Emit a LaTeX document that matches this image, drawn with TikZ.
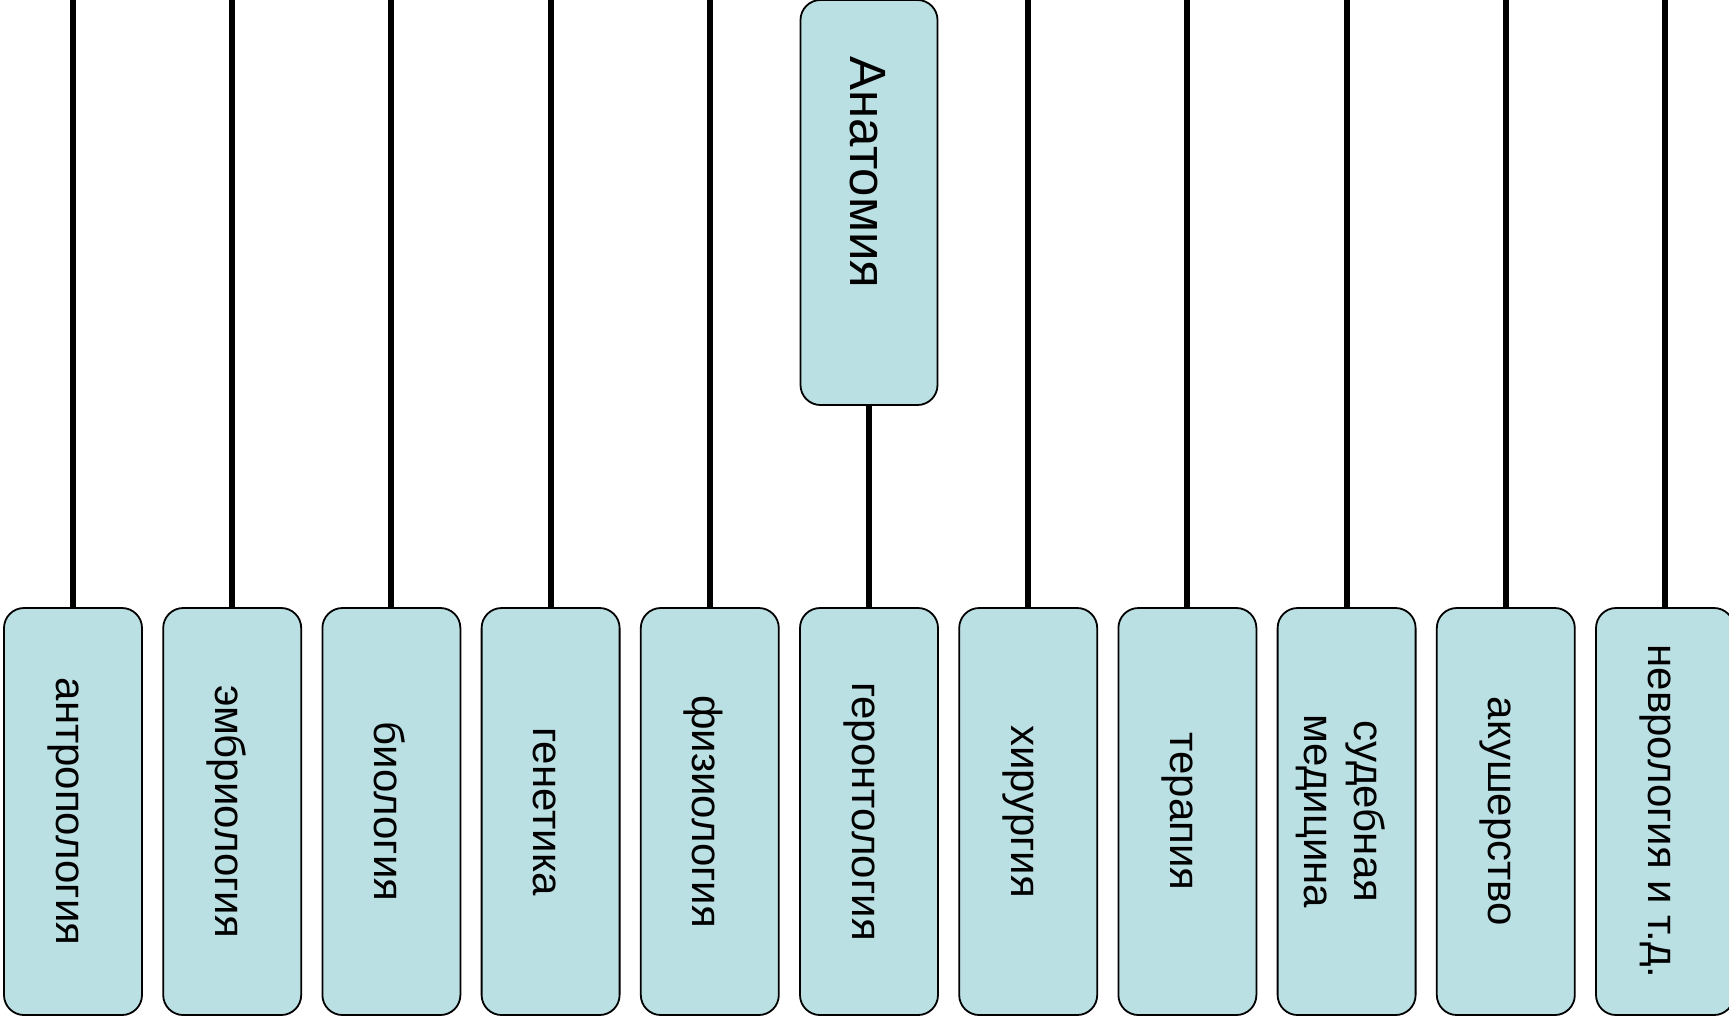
\documentclass[tikz,border=0pt]{standalone}
\usepackage{fontspec}
\setmainfont{Liberation Sans}
\usepackage{graphicx}
\usetikzlibrary{positioning}
\definecolor{boxfill}{RGB}{187,224,227}
\tikzset{
  % дочерний блок (текст повернут)
  disc/.style={rectangle, rounded corners=10pt, draw=black, line width=0.9pt, fill=boxfill,
               minimum width=69pt, minimum height=203.5pt, inner sep=0pt, outer sep=0pt,
               font=\fontsize{21}{25}\selectfont},
  root/.style={disc, minimum width=68.5pt, minimum height=202.5pt,
               font=\fontsize{25.5}{30}\selectfont},
  link/.style={line width=3pt, draw=black}
}
\newcommand{\vtext}[1]{\rotatebox{-90}{\raisebox{-3.5pt}[\height][\depth]{\begin{tabular}{@{}c@{}}#1\end{tabular}}}}

\begin{document}
\begin{tikzpicture}[node distance=10.6pt]
    \useasboundingbox (0,0) rectangle (864.5pt,-512.5pt);

    \node[disc] (antr) at (36.5pt,-405.75pt) {\vtext{антропология}};
    \node[disc, right=of antr] (embr) {\vtext{эмбриология}};
    \node[disc, right=of embr] (biol) {\vtext{биология}};
    \node[disc, right=of biol] (gene) {\vtext{генетика}};
    \node[disc, right=of gene] (fizi) {\vtext{физиология}};
    \node[disc, right=of fizi] (gero) {\vtext{геронтология}};
    \node[disc, right=of gero] (hiru) {\vtext{хирургия}};
    \node[disc, right=of hiru] (tera) {\vtext{терапия}};
    \node[disc, right=of tera] (sudm) {\vtext{судебная\\медицина}};
    \node[disc, right=of sudm] (akus) {\vtext{акушерство}};
    \node[disc, right=of akus] (nevr) {\vtext{неврология и т.д.}};

    \node[root, above=101.5pt of gero] (anat) {\vtext{Анатомия\hspace*{30pt}}};

    \draw[link] (anat) -- (gero);
    \draw[link] (antr.north |- anat.north) -- (antr);
    \draw[link] (embr.north |- anat.north) -- (embr);
    \draw[link] (biol.north |- anat.north) -- (biol);
    \draw[link] (gene.north |- anat.north) -- (gene);
    \draw[link] (fizi.north |- anat.north) -- (fizi);
    \draw[link] (hiru.north |- anat.north) -- (hiru);
    \draw[link] (tera.north |- anat.north) -- (tera);
    \draw[link] (sudm.north |- anat.north) -- (sudm);
    \draw[link] (akus.north |- anat.north) -- (akus);
    \draw[link] (nevr.north |- anat.north) -- (nevr);
\end{tikzpicture}
\end{document}
